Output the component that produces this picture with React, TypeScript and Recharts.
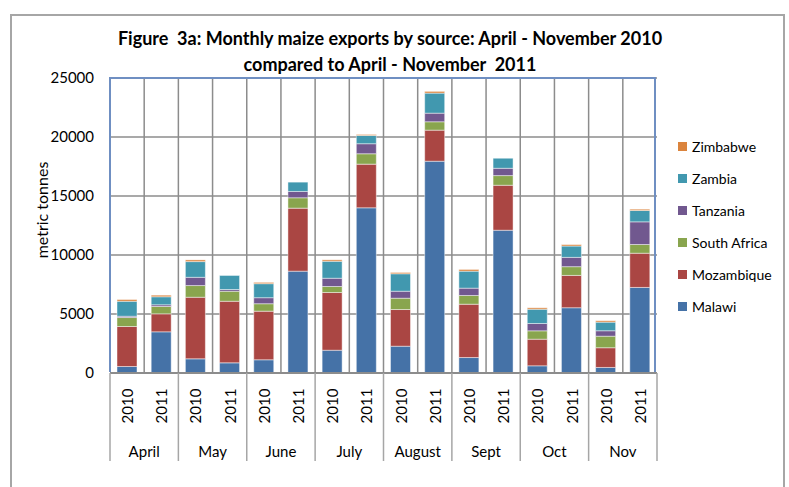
import React from 'react';
import { BarChart, Bar, XAxis, YAxis, CartesianGrid } from 'recharts';

const months = ['April', 'May', 'June', 'July', 'August', 'Sept', 'Oct', 'Nov'];
const years = ['2010', '2011'];

// values per bar, in order April 2010, April 2011, May 2010, ...
const malawi = [550, 3490, 1200, 860, 1120, 8630, 1930, 14000, 2270, 17950, 1310, 12100, 610, 5530, 470, 7250];
const mozambique = [3390, 1525, 5220, 5220, 4120, 5340, 4890, 3700, 3110, 2630, 4520, 3810, 2255, 2740, 1670, 2900];
const southAfrica = [760, 620, 990, 850, 630, 880, 510, 880, 960, 710, 740, 820, 710, 740, 980, 740];
const tanzania = [110, 145, 700, 145, 510, 535, 700, 850, 590, 730, 620, 620, 620, 790, 460, 1920];
const zambia = [1270, 680, 1330, 1190, 1190, 790, 1440, 700, 1480, 1700, 1440, 850, 1210, 960, 730, 960];
const zimbabwe = [145, 135, 145, 0, 110, 0, 120, 85, 110, 145, 145, 0, 120, 120, 120, 110];

const yTicks = [0, 5000, 10000, 15000, 20000, 25000];

const series = [
  { key: 'Malawi', values: malawi, color: '#4572A7' },
  { key: 'Mozambique', values: mozambique, color: '#AA4643' },
  { key: 'South Africa', values: southAfrica, color: '#89A54E' },
  { key: 'Tanzania', values: tanzania, color: '#71588F' },
  { key: 'Zambia', values: zambia, color: '#4198AF' },
  { key: 'Zimbabwe', values: zimbabwe, color: '#DB843D' },
];

const data = months.flatMap((m, mi) =>
  years.map((yr, yi) => {
    const i = mi * 2 + yi;
    const row: any = { key: `${m}-${yr}`, month: m, year: yr };
    series.forEach(s => { row[s.key] = s.values[i]; });
    return row;
  })
);

const FONT = 'Lato, "Liberation Sans", sans-serif';
const W = 789;
const H = 487;
const M = { top: 78, right: 132, bottom: 0, left: 40 };
const Y_WIDTH = 70;
const X_HEIGHT = 114;
const plotLeft = M.left + Y_WIDTH;
const plotWidth = W - plotLeft - M.right;
const plotTop = M.top;
const plotHeight = H - M.top - X_HEIGHT;
const band = plotWidth / data.length;

const XTick = (props: any) => {
  const { x, y, index } = props;
  const row = data[index] || {};
  const cy = y + 33;
  return (
    <g>
      <text
        x={x}
        y={cy}
        transform={`rotate(-90, ${x}, ${cy})`}
        textAnchor="middle"
        dominantBaseline="central"
        fontSize={15}
        fontFamily={FONT}
        fill="#000"
      >
        {row.year}
      </text>
      {index % 2 === 1 && (
        <>
          <text x={x - band / 2} y={y + 84} textAnchor="middle" fontSize={15} fontFamily={FONT} fill="#000">
            {row.month}
          </text>
          <line x1={x + band / 2} x2={x + band / 2} y1={y} y2={y + 88} stroke="#a6a6a6" strokeWidth={1.5} />
        </>
      )}
      {index === 0 && (
        <line x1={x - band / 2} x2={x - band / 2} y1={y} y2={y + 88} stroke="#a6a6a6" strokeWidth={1.5} />
      )}
    </g>
  );
};

export default function App() {
  return (
    <div style={{ position: 'absolute', left: 0, top: 0, width: W, height: H, overflow: 'hidden', background: '#fff', fontFamily: FONT }}>
      <div style={{ position: 'absolute', left: 10, top: 14, width: 771, height: 520, border: '2px solid #a6a6a6' }} />
      <div style={{ position: 'absolute', left: 0, top: 25, width: 780, textAlign: 'center', fontWeight: 700, fontSize: 18, lineHeight: '26px', color: '#000' }}>
        <div>Figure&nbsp; 3a: Monthly maize exports by source: April - November 2010</div>
        <div>compared to April - November&nbsp; 2011</div>
      </div>
      <div style={{ position: 'absolute', left: 42, top: 210, transform: 'translate(-50%, -50%) rotate(-90deg)', fontSize: 16, lineHeight: '18px', whiteSpace: 'nowrap', color: '#000' }}>
        metric tonnes
      </div>
      <BarChart width={W} height={H} data={data} margin={M} barSize={20} style={{ position: 'absolute', left: 0, top: 0 }}>
        <CartesianGrid
          stroke="#8c8c8c"
          strokeWidth={1.5}
          verticalCoordinatesGenerator={({ offset }: any) =>
            data.slice(1).map((_, i) => offset.left + (i + 1) * (offset.width / data.length))
          }
        />
        <XAxis
          dataKey="key"
          height={X_HEIGHT}
          interval={0}
          tickLine={false}
          tickSize={0}
          tickMargin={0}
          axisLine={{ stroke: '#8c8c8c', strokeWidth: 2 }}
          tick={<XTick />}
        />
        <YAxis
          width={Y_WIDTH}
          domain={[0, 25000]}
          ticks={yTicks}
          interval={0}
          axisLine={false}
          tickLine={false}
          tickMargin={10}
          tick={{ fontSize: 15, fill: '#000', fontFamily: FONT }}
        />
        {series.map(s => (
          <Bar key={s.key} dataKey={s.key} stackId="a" fill={s.color} stroke="rgba(255,255,255,0.45)" strokeWidth={1} isAnimationActive={false} />
        ))}
      </BarChart>
      <div style={{ position: 'absolute', left: plotLeft, top: plotTop, width: plotWidth, height: plotHeight, borderTop: '2px solid #6f8fc2', borderLeft: '2px solid #6f8fc2', borderRight: '2px solid #6f8fc2', boxSizing: 'border-box', pointerEvents: 'none', marginLeft: -1, marginTop: -1 }} />
      <div style={{ position: 'absolute', left: 678, top: 130 }}>
        {[...series].reverse().map(s => (
          <div key={s.key} style={{ display: 'flex', alignItems: 'center', height: 32 }}>
            <div style={{ width: 9, height: 9, background: s.color, marginRight: 5 }} />
            <span style={{ fontSize: 14, color: '#000' }}>{s.key}</span>
          </div>
        ))}
      </div>
    </div>
  );
}
